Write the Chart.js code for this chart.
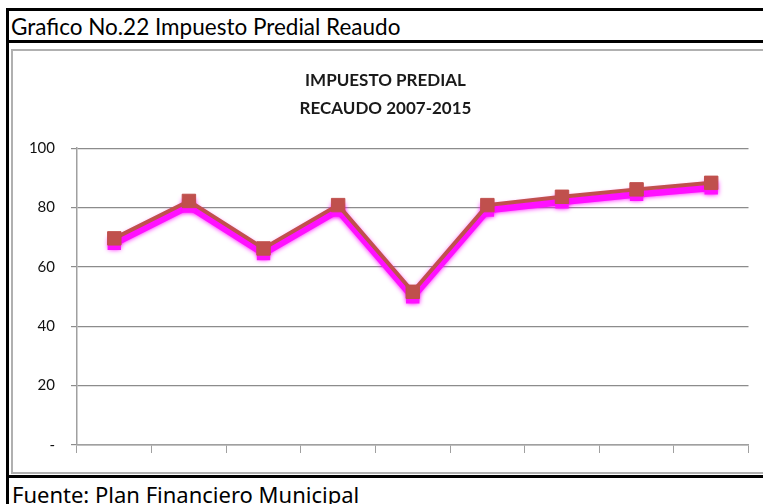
<!DOCTYPE html>
<html>
<head>
<meta charset="utf-8">
<script src="https://cdn.jsdelivr.net/npm/chart.js@4/dist/chart.umd.min.js"></script>
<style>
    body { margin: 0; background: #fff; width: 763px; height: 504px; overflow: hidden; position: relative; }
    .frame { position: absolute; left: 6px; top: 8px; width: 770px; height: 510px; border-left: 3px solid #000; border-top: 3px solid #000; }
    .header { position: absolute; left: 9px; top: 11px; width: 760px; height: 29px; border-bottom: 3px solid #000;
              font-family: Lato, sans-serif; font-size: 22.5px; line-height: 31px; padding-left: 2px; color: #000; }
    .chartbox { position: absolute; left: 11px; top: 49px; width: 760px; height: 421px; border: 2px solid #b0b0b0; }
    .footer { position: absolute; left: 9px; top: 475px; width: 760px; height: 40px; border-top: 3px solid #000;
              font-family: "Noto Sans", sans-serif; font-size: 22px; line-height: 33px; padding-left: 3px; color: #000; }
    #wrap { position: absolute; left: 13px; top: 52px; width: 746px; height: 419px; }
</style>
</head>
<body>
<div class="frame"></div>
<div class="header">Grafico No.22 Impuesto Predial Reaudo</div>
<div class="chartbox"></div>
<div class="footer">Fuente: Plan Financiero Municipal</div>
<div id="wrap"><canvas id="chart" width="746" height="419"></canvas></div>

<script>
// data
const years = ['2007', '2008', '2009', '2010', '2011', '2012', '2013', '2014', '2015'];
const recaudo = [69.6, 82.2, 66.2, 80.8, 51.6, 80.8, 83.6, 86.1, 88.3];
const yTicks = [0, 20, 40, 60, 80, 100];
const titleLines = ['IMPUESTO PREDIAL', 'RECAUDO 2007-2015'];

// pink glow under the line (dataset 1 is drawn shifted down)
const glowPlugin = {
    id: 'glow',
    beforeDatasetDraw(chart, args) {
        if (args.index !== 1) return;
        let ctx = chart.ctx;
        ctx.save();
        ctx.translate(0, 5);
        ctx.shadowColor = '#ff00ff';
        ctx.shadowBlur = 5;
    },
    afterDatasetDraw(chart, args) {
        if (args.index !== 1) return;
        chart.ctx.restore();
    }
};

new Chart(document.getElementById('chart'), {
    type: 'line',
    data: {
        labels: years,
        datasets: [{
            data: recaudo,
            borderColor: '#c0504d',
            backgroundColor: '#c0504d',
            borderWidth: 4,
            pointStyle: 'rect',
            pointRadius: 9.5,
            pointBorderWidth: 1,
            tension: 0
        }, {
            data: recaudo,
            borderColor: '#ff10ff',
            backgroundColor: '#ff10ff',
            borderWidth: 7,
            pointStyle: 'rect',
            pointRadius: 9.5,
            pointBorderWidth: 0,
            tension: 0
        }]
    },
    options: {
        responsive: false,
        animation: false,
        layout: { padding: { left: 0, right: 1, top: 0, bottom: 0 } },
        plugins: {
            legend: { display: false },
            tooltip: { enabled: false },
            title: {
                display: true,
                text: titleLines,
                color: '#1a1a1a',
                font: { family: 'Lato', size: 17, weight: 'bold', lineHeight: 1.65 },
                padding: { top: 14, bottom: 26 }
            }
        },
        scales: {
            x: {
                offset: true,
                grid: { offset: true, drawOnChartArea: false, drawTicks: true, tickLength: 8, color: '#a0a0a0' },
                border: { color: '#a0a0a0', width: 1.5 },
                ticks: { display: false },
                afterFit: s => { s.height = 26; }
            },
            y: {
                min: 0,
                max: 100,
                afterBuildTicks: s => { s.ticks = yTicks.map(v => ({ value: v })); },
                grid: { color: '#8c8c8c', lineWidth: 1.2, tickLength: 6 },
                border: { color: '#a0a0a0', width: 1.5 },
                ticks: {
                    color: '#111',
                    padding: 16,
                    font: { family: 'Lato', size: 15 },
                    callback: v => v === 0 ? '-' : v
                },
                afterFit: s => { s.width = 64; }
            }
        }
    },
    plugins: [glowPlugin]
});
</script>
</body>
</html>
